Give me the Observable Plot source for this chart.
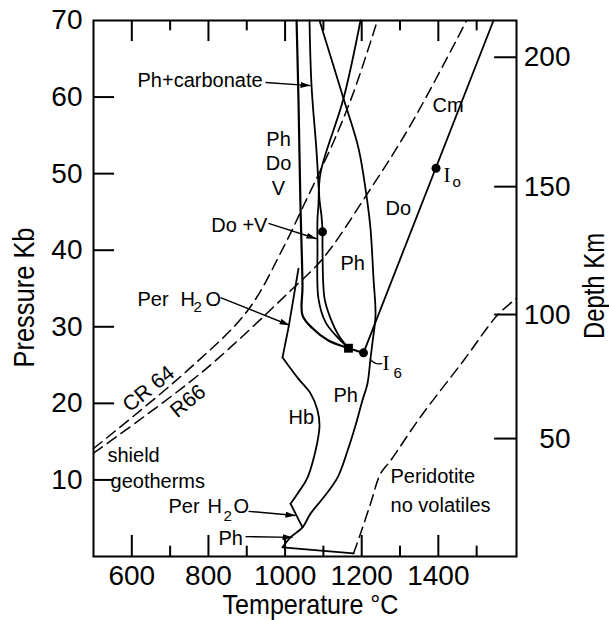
<!DOCTYPE html>
<html><head><meta charset="utf-8">
<script src="https://cdn.jsdelivr.net/npm/d3@7"></script>
<script src="https://cdn.jsdelivr.net/npm/@observablehq/plot@0.6"></script>
<style>body{margin:0;background:#fff} svg{display:block}</style>
</head><body><div id="chart"></div>
<script>
// ---- axis ticks ----
const xMajorTicks = [600, 800, 1000, 1200, 1400];
const xMinorTicks = [700, 900, 1100, 1300, 1500];
const pressureTicks = [10, 20, 30, 40, 50, 60];
const pressureLabels = [10, 20, 30, 40, 50, 60, 70];
const depthKm = [50, 100, 150, 200];
const depthAtPressure = [15.4, 31.6, 48.3, 65.2];

// ---- curves: [temperature °C, pressure kb] ----
const perH2OSolidus = [[1030,70],[1035,59.6],[1040,46.2],[1045.5,35.4],[1045.5,31.5],[1071.6,29.8],[1113,28.2],[1165.5,27.2],[1204.7,26.6]];
const carbonateLine = [[1063.8,70],[1069,61.5],[1082,53.0],[1090,46.5],[1095,44.5],[1097.7,42.4],[1097.7,40.2],[1103,33.7],[1118.6,31.1],[1139.5,28.9],[1165.5,27.2]];
const phDoLine = [[1196.9,70],[1152.5,59.8],[1092.5,50.1],[1087,45.8],[1084.6,44.1],[1084.6,40.2],[1087,33.7],[1105.5,30.6],[1131.6,28.9],[1165.5,27.2]];
const phSolidus = [[1089.9,70],[1152.5,59.8],[1191.7,53.3],[1215,46.2],[1223,42.8],[1230.8,36.3],[1236,31.5],[1228,27.9],[1223,25.9],[1215.1,22.6],[1202,20.4],[1183.8,17.1],[1163,13.8],[1136.8,10.3],[1100.3,7.7],[1066.4,5.6],[1045.5,3.8],[1014.2,2.5],[993.3,1.2]];
const baseLine = [[993.3,1.2],[1178.6,0.4]];
const perH2OUpper = [[1035,37.6],[1009,29.9],[993.3,26.0]];
const hbBoundary = [[993.3,26.0],[1035,23.2],[1066.4,21.3],[1084.6,19.1],[1089.9,17.1],[1087.2,15.8],[1079.4,13.8],[1058.5,10.3],[1032.4,8.2],[1014.2,6.9]];
const perH2OLower = [[1014.2,6.9],[1045.5,3.8]];
const cmDoLine = [[1204.7,26.6],[1544,70]];
const geothermCR64 = [[500,14.1],[745.3,24.3],[902,32.1],[996,40.4],[1048,45.8],[1126,54.1],[1178.6,60.6],[1241,70]];
const geothermR66 = [[500,13.5],[779,23.9],[1014,34.7],[1100,39.0],[1215,47.4],[1327,56.3],[1474,70]];
const peridotiteDry = [[1178.6,0.4],[1197,3.0],[1223,6.9],[1249,10.8],[1275,12.5],[1353,18.2],[1466,25.6],[1554,31.5],[1604,33.7]];
const i6Leader = [[1223,25.7],[1236,25.1],[1252,25.2]];

// ---- invariant points ----
const roundPoints = [[1097.7,42.4],[1394,50.7],[1204.7,26.6]];
const squarePoints = [[1165.5,27.2]];

// ---- labels ----
const labels = [
  {T: 614.8, P: 62.1, text: "Ph+carbonate", anchor: "start"},
  {T: 982.9, P: 54.4, text: "Ph", anchor: "middle"},
  {T: 982.9, P: 51.3, text: "Do", anchor: "middle"},
  {T: 982.9, P: 48.1, text: "V", anchor: "middle"},
  {T: 954, P: 43.2, text: "Do +V", anchor: "end"},
  {T: 614.8, P: 33.6, text: "Per", anchor: "start"},
  {T: 727, P: 33.6, text: "H", anchor: "start"},
  {T: 792, P: 33.6, text: "O", anchor: "start"},
  {T: 536.5, P: 13.2, text: "shield", anchor: "start"},
  {T: 544.4, P: 9.8, text: "geotherms", anchor: "start"},
  {T: 695.8, P: 6.5, text: "Per", anchor: "start"},
  {T: 797.5, P: 6.5, text: "H", anchor: "start"},
  {T: 865.4, P: 6.5, text: "O", anchor: "start"},
  {T: 826.3, P: 2.3, text: "Ph", anchor: "start"},
  {T: 1009, P: 18.2, text: "Hb", anchor: "start"},
  {T: 1126.4, P: 21.0, text: "Ph", anchor: "start"},
  {T: 1144.7, P: 38.2, text: "Ph", anchor: "start"},
  {T: 1262, P: 45.4, text: "Do", anchor: "start"},
  {T: 1384.8, P: 58.9, text: "Cm", anchor: "start"},
  {T: 1275.2, P: 10.4, text: "Peridotite", anchor: "start"},
  {T: 1275.2, P: 6.6, text: "no volatiles", anchor: "start"}
];
const subLabels = [
  {T: 761, P: 32.5, text: "2"},
  {T: 839.3, P: 5.2, text: "2"},
  {T: 1437, P: 48.9, text: "o"},
  {T: 1283, P: 24.0, text: "6"}
];
const pointLabels = [
  {T: 1413.5, P: 49.8, text: "I"},
  {T: 1254.3, P: 25.3, text: "I"}
];
const geothermLabels = [
  {T: 643.6, P: 21.9, text: "CR 64"},
  {T: 746.6, P: 20.3, text: "R66"}
];
const arrows = [
  {T1: 949, P1: 61.9, T2: 1066.4, P2: 61.5},
  {T1: 956.8, P1: 43.5, T2: 1082, P2: 41.5},
  {T1: 831.5, P1: 33.8, T2: 1011.6, P2: 30.2},
  {T1: 904.6, P1: 5.9, T2: 1027.2, P2: 5.35},
  {T1: 896.7, P1: 2.6, T2: 1019.4, P2: 2.5}
];

const SANS = "'Liberation Sans', Arial, Helvetica, sans-serif";
const SERIF = "'Liberation Serif', 'Times New Roman', serif";
const TMIN = 500, TMAX = 1604;

const solid = (data, curve = "catmull-rom", w = 1.8) =>
  Plot.line(data, {x: d => d[0], y: d => d[1], stroke: "black", strokeWidth: w, curve});
const dashed = (data) =>
  Plot.line(data, {x: d => d[0], y: d => d[1], stroke: "black", strokeWidth: 1.5, strokeDasharray: "11,6", curve: "catmull-rom"});
const labelText = (anchor) =>
  Plot.text(labels.filter(d => d.anchor === anchor), {x: "T", y: "P", text: "text", textAnchor: anchor, lineAnchor: "middle", fontSize: 20});

const chart = Plot.plot({
  width: 609, height: 620,
  marginLeft: 93, marginRight: 93, marginTop: 20, marginBottom: 64,
  x: {domain: [TMIN, TMAX], axis: null},
  y: {domain: [0, 70], axis: null},
  style: {background: "white", fontFamily: SANS, color: "black"},
  marks: [
    // inward ticks
    Plot.ruleX(xMajorTicks, {y1: 0, y2: 2.75, strokeWidth: 2}),
    Plot.ruleX(xMinorTicks, {y1: 0, y2: 1.35, strokeWidth: 2}),
    Plot.ruleX(xMajorTicks, {y1: 70, y2: 67.25, strokeWidth: 2}),
    Plot.ruleX(xMinorTicks, {y1: 70, y2: 68.65, strokeWidth: 2}),
    Plot.ruleY(pressureTicks, {x1: TMIN, x2: TMIN + 55, strokeWidth: 2}),
    Plot.ruleY(depthAtPressure, {x1: TMAX, x2: TMAX - 57, strokeWidth: 2}),
    // tick labels
    Plot.text(pressureLabels, {x: () => TMIN, y: d => d, text: d => String(d), textAnchor: "end", lineAnchor: "middle", dx: -11, fontSize: 28}),
    Plot.text(xMajorTicks, {x: d => d, y: () => 0, text: d => String(d), textAnchor: "middle", lineAnchor: "middle", dy: 20, fontSize: 28}),
    Plot.text(depthKm, {x: () => TMAX, y: (d, i) => depthAtPressure[i], text: d => String(d), textAnchor: "end", lineAnchor: "middle", dx: 54, fontSize: 28}),
    // axis titles
    Plot.text(["Pressure Kb"], {frameAnchor: "left", text: d => d, rotate: -90, textAnchor: "middle", lineAnchor: "middle", dx: -69.5, dy: 9, fontSize: 30}),
    Plot.text(["Depth Km"], {frameAnchor: "right", text: d => d, rotate: -90, textAnchor: "middle", lineAnchor: "middle", dx: 78, dy: -2.5, fontSize: 29}),
    Plot.text(["Temperature \u00B0C"], {frameAnchor: "bottom", text: d => d, textAnchor: "middle", lineAnchor: "middle", dx: 5.5, dy: 49, fontSize: 28}),
    // geotherms and dry solidus
    dashed(geothermCR64),
    dashed(geothermR66),
    dashed(peridotiteDry),
    // phase boundaries
    solid(perH2OSolidus, "catmull-rom", 2.2),
    solid(carbonateLine),
    solid(phDoLine),
    solid(phSolidus),
    solid(baseLine, "linear"),
    solid(perH2OUpper, "linear"),
    solid(hbBoundary),
    solid(perH2OLower, "linear"),
    solid(cmDoLine, "linear"),
    solid(i6Leader, "basis", 1.3),
    // label arrows (filled heads added below as SVG markers)
    Plot.link(arrows, {x1: "T1", y1: "P1", x2: "T2", y2: "P2", stroke: "black", strokeWidth: 1.4}),
    // points
    Plot.dot(roundPoints, {x: d => d[0], y: d => d[1], r: 4.5, fill: "black"}),
    Plot.dot(squarePoints, {x: d => d[0], y: d => d[1], r: 5, symbol: "square", fill: "black"}),
    // labels
    labelText("start"),
    labelText("middle"),
    labelText("end"),
    Plot.text(subLabels, {x: "T", y: "P", text: "text", textAnchor: "start", lineAnchor: "middle", fontSize: 15}),
    Plot.text(pointLabels, {x: "T", y: "P", text: "text", textAnchor: "start", lineAnchor: "middle", fontSize: 21, fontFamily: SERIF}),
    Plot.text(geothermLabels, {x: "T", y: "P", text: "text", textAnchor: "middle", lineAnchor: "middle", rotate: -39, fontSize: 21}),
    Plot.frame({stroke: "black", strokeWidth: 2})
  ]
});
document.getElementById("chart").appendChild(chart);

// condensed axis titles (the reference lettering is narrow)
const svg = d3.select(chart);
const titleLengths = {"Pressure Kb": 140, "Depth Km": 106, "Temperature \u00B0C": 176};
svg.selectAll("text").each(function () {
  const len = titleLengths[this.textContent];
  if (len) d3.select(this).attr("textLength", len).attr("lengthAdjust", "spacingAndGlyphs");
});
// filled arrow heads for the label pointers
svg.insert("defs", ":first-child")
  .append("marker").attr("id", "ah").attr("viewBox", "0 0 10 6")
  .attr("refX", 10).attr("refY", 3).attr("markerWidth", 10).attr("markerHeight", 6)
  .attr("markerUnits", "userSpaceOnUse").attr("orient", "auto")
  .append("path").attr("d", "M0,0L10,3L0,6Z").attr("fill", "black");
svg.selectAll('g[aria-label="link"] path, g[aria-label="link"] line').attr("marker-end", "url(#ah)");
</script>
</body></html>
